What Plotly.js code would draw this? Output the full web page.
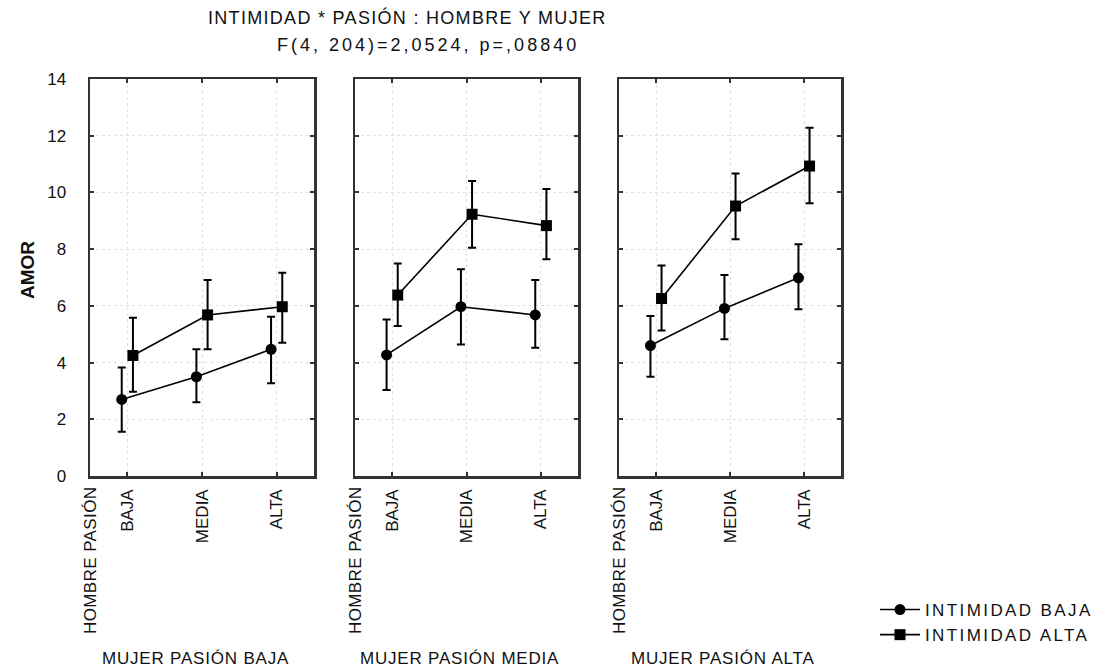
<!DOCTYPE html>
<html>
<head>
<meta charset="utf-8">
<script src="https://cdn.plot.ly/plotly-3.0.1.min.js"></script>
<style>html,body{margin:0;padding:0;background:#fff;}</style>
</head>
<body>
<div id="chart" style="width:1112px;height:670px;"></div>
<script>
// ---------- DATA ----------
const hombrePasion = ["BAJA", "MEDIA", "ALTA"];
const mujerPasion = ["MUJER PASIÓN BAJA", "MUJER PASIÓN MEDIA", "MUJER PASIÓN ALTA"];
const seriesNames = ["INTIMIDAD BAJA", "INTIMIDAD ALTA"];
// one row per panel (mujer pasión baja / media / alta)
const intBajaMean  = [[2.70, 3.50, 4.47], [4.27, 5.97, 5.68], [4.60, 5.91, 6.99]];
const intBajaUpper = [[3.83, 4.47, 5.62], [5.52, 7.29, 6.91], [5.64, 7.09, 8.17]];
const intBajaLower = [[1.56, 2.60, 3.27], [3.03, 4.64, 4.52], [3.50, 4.82, 5.88]];
const intAltaMean  = [[4.25, 5.68, 5.97], [6.38, 9.23, 8.83], [6.26, 9.52, 10.93]];
const intAltaUpper = [[5.58, 6.91, 7.17], [7.49, 10.40, 10.12], [7.42, 10.67, 12.28]];
const intAltaLower = [[2.97, 4.47, 4.70], [5.29, 8.05, 7.64], [5.13, 8.35, 9.62]];
const yTicks = [0, 2, 4, 6, 8, 10, 12, 14];
const titleLine1 = "INTIMIDAD * PASIÓN : HOMBRE Y MUJER";
const titleLine2 = "F(4, 204)=2,0524, p=,08840";
const yTitle = "AMOR";
const xLeftLabel = "HOMBRE PASIÓN";

// ---------- STYLE HELPERS ----------
const W = 1112, H = 670;
const px = v => v / W;
const py = v => 1 - v / H;
const FONT = "Liberation Sans, Arial, sans-serif";
const sp = (t, s) => '<span style="letter-spacing:' + s + 'px">' + t + '</span>';
const INK = "#111";
const AXC = "#333";

const panelX = [[90, 314], [355, 578], [619, 841]];
const panelY = [476, 79];

const seriesData = [
  {mean: intBajaMean, up: intBajaUpper, lo: intBajaLower, symbol: "circle"},
  {mean: intAltaMean, up: intAltaUpper, lo: intAltaLower, symbol: "square"}
];

const traces = [];
for (let p = 0; p < 3; p++) {
  const sfx = p === 0 ? "" : String(p + 1);
  seriesData.forEach((s, si) => {
    traces.push({
      type: "scatter",
      mode: "lines+markers",
      x: hombrePasion,
      y: s.mean[p],
      name: sp(seriesNames[si], 2.4),
      legendgroup: seriesNames[si],
      showlegend: p === 0,
      xaxis: "x" + sfx,
      yaxis: "y" + sfx,
      line: {color: "#000", width: 1.6},
      marker: {symbol: s.symbol, size: 11, color: "#000"},
      error_y: {
        type: "data", symmetric: false,
        array: s.up[p].map((u, i) => u - s.mean[p][i]),
        arrayminus: s.lo[p].map((l, i) => s.mean[p][i] - l),
        color: "#000", thickness: 2, width: 4
      },
      hoverinfo: "x+y"
    });
  });
}

const layout = {
  width: W, height: H,
  margin: {l: 0, r: 0, t: 0, b: 0},
  paper_bgcolor: "#fff", plot_bgcolor: "#fff",
  font: {family: FONT, color: INK, size: 17},
  scattermode: "group",
  scattergap: 0.7,
  showlegend: true,
  legend: {
    x: px(875), y: py(592), xanchor: "left", yanchor: "top",
    bgcolor: "rgba(0,0,0,0)", font: {family: FONT, size: 17, color: INK},
    itemwidth: 40, tracegroupgap: 0
  },
  annotations: []
};

for (let p = 0; p < 3; p++) {
  const sfx = p === 0 ? "" : String(p + 1);
  layout["xaxis" + sfx] = {
    domain: [px(panelX[p][0]), px(panelX[p][1])],
    anchor: "y" + sfx,
    type: "category",
    range: [-0.5, 2.5],
    tickangle: -90,
    ticks: "inside", ticklen: 4, tickwidth: 2, tickcolor: AXC,
    showline: true, linewidth: 2.5, linecolor: AXC, mirror: "ticks",
    showgrid: true, gridcolor: "#e2e2e2", griddash: "dot", gridwidth: 1,
    tickfont: {family: FONT, size: 17, color: INK},
    ticklabelstandoff: 4,
    fixedrange: true
  };
  layout["yaxis" + sfx] = {
    domain: [py(panelY[0]), py(panelY[1])],
    anchor: "x" + sfx,
    range: [0, 14],
    tickvals: yTicks,
    ticks: "inside", ticklen: 4, tickwidth: 2, tickcolor: AXC,
    showline: true, linewidth: 2.5, linecolor: AXC, mirror: "ticks",
    showgrid: true, gridcolor: "#e2e2e2", griddash: "dot", gridwidth: 1,
    zeroline: false,
    showticklabels: p === 0,
    tickfont: {family: FONT, size: 17, color: INK},
    ticklabelstandoff: 18,
    fixedrange: true
  };
  layout.annotations.push({
    text: sp(xLeftLabel, 0.4),
    xref: "x" + sfx + " domain", yref: "paper",
    x: 0, y: py(484), xanchor: "center", yanchor: "top",
    textangle: -90, showarrow: false,
    font: {family: FONT, size: 17, color: INK}
  });
  layout.annotations.push({
    text: sp(mujerPasion[p], 0.8),
    xref: "x" + sfx + " domain", yref: "paper",
    x: 0.47, y: py(658), xanchor: "center", yanchor: "middle",
    showarrow: false,
    font: {family: FONT, size: 17, color: INK}
  });
}

layout.annotations.push({
  text: sp(titleLine1, 1.3), xref: "paper", yref: "paper",
  x: px(407), y: py(18), xanchor: "center", yanchor: "middle",
  showarrow: false, font: {family: FONT, size: 18, color: INK}
});
layout.annotations.push({
  text: sp(titleLine2, 3), xref: "paper", yref: "paper",
  x: px(428), y: py(45), xanchor: "center", yanchor: "middle",
  showarrow: false, font: {family: FONT, size: 18, color: INK}
});
layout.annotations.push({
  text: "<b>" + yTitle + "</b>", xref: "paper", yref: "paper",
  x: px(27), y: py(270), xanchor: "center", yanchor: "middle",
  textangle: -90, showarrow: false,
  font: {family: FONT, size: 19, color: INK}
});

Plotly.newPlot("chart", traces, layout, {displayModeBar: false, staticPlot: true});
</script>
</body>
</html>
